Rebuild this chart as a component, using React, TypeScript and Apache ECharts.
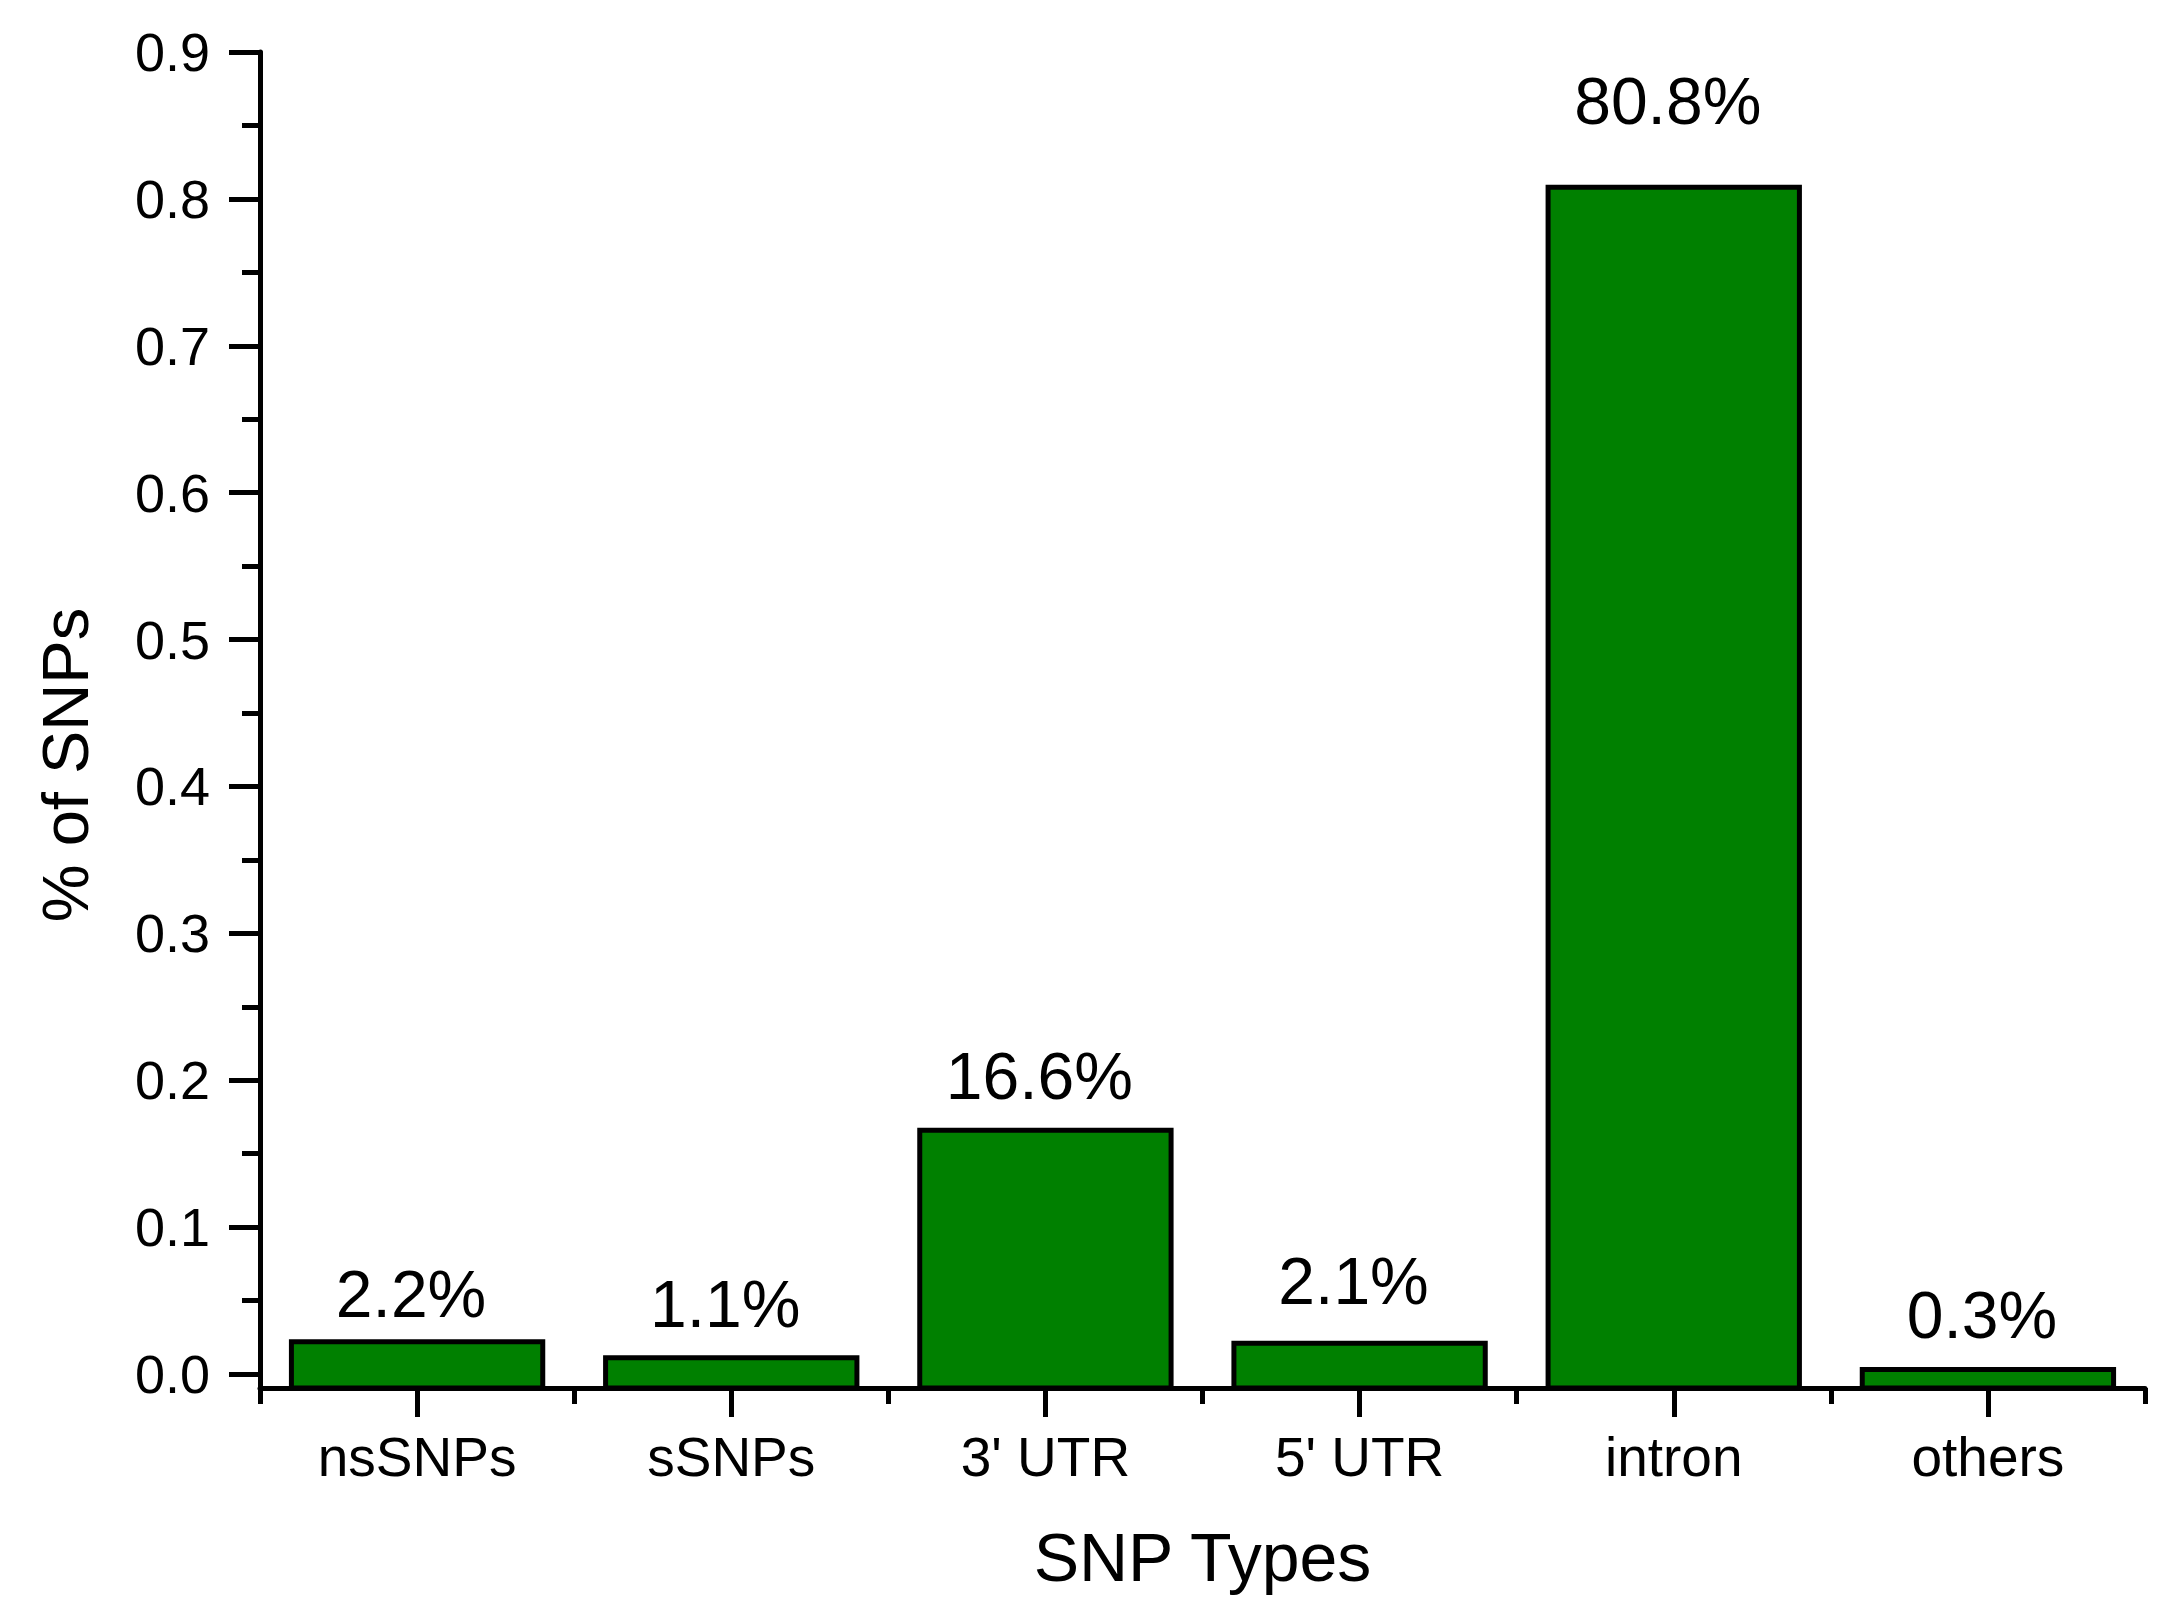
import React, { useEffect, useRef } from "react";
import * as echarts from "echarts";

const categories = ["nsSNPs", "sSNPs", "3' UTR", "5' UTR", "intron", "others"];
const values = [0.022, 0.011, 0.166, 0.021, 0.808, 0.003];
const barLabels = ["2.2%", "1.1%", "16.6%", "2.1%", "80.8%", "0.3%"];
const yMax = 0.9;
const yInterval = 0.1;
// style: distance (px) from label baseline to bar top, as placed in the original figure
const labelGaps = [26, 32, 32, 40, 64, 33];

const FONT = "'Liberation Sans', Arial, sans-serif";

export default function App() {
  const ref = useRef<HTMLDivElement>(null);
  useEffect(() => {
    document.body.style.margin = "0";
    if (!ref.current) return;
    const chart = echarts.init(ref.current, null, { renderer: "svg" });
    const gridLeft = 260;
    const gridRight = 31;
    const gridTop = 52;
    const bottomA = 247; // zero level
    const bottomB = 233; // axis line
    const plotH = 1621 - gridTop - bottomA;
    const yMinB = -yMax * (bottomA - bottomB) / plotH;
    const labelSize = 66;

    chart.setOption({
      animation: false,
      backgroundColor: "#fff",
      grid: [
        { left: gridLeft, right: gridRight, top: gridTop, bottom: bottomA },
        { left: gridLeft, right: gridRight, top: gridTop, bottom: bottomB },
      ],
      xAxis: [
        { type: "category", gridIndex: 0, data: categories, show: false },
        {
          type: "category",
          gridIndex: 1,
          position: "bottom",
          data: categories,
          axisLine: { show: true, onZero: false, lineStyle: { color: "#000", width: 5 } },
          axisTick: { show: true, alignWithLabel: true, length: 29, lineStyle: { color: "#000", width: 5 } },
          axisLabel: { color: "#000", fontSize: 55, fontFamily: FONT, margin: 41 },
          name: "SNP Types",
          nameLocation: "middle",
          nameGap: 135,
          nameTextStyle: { color: "#000", fontSize: 68, fontFamily: FONT },
        },
        {
          type: "category",
          gridIndex: 1,
          position: "bottom",
          data: categories,
          axisLine: { show: false, onZero: false },
          axisTick: { show: true, alignWithLabel: false, length: 16, lineStyle: { color: "#000", width: 5 } },
          axisLabel: { show: false },
        },
      ],
      yAxis: [
        {
          type: "value",
          gridIndex: 0,
          min: 0,
          max: yMax,
          interval: yInterval,
          axisLine: { show: false },
          axisTick: { show: true, length: 31, lineStyle: { color: "#000", width: 5 } },
          minorTick: { show: true, splitNumber: 2, length: 18, lineStyle: { color: "#000", width: 5 } },
          splitLine: { show: false },
          axisLabel: {
            color: "#000",
            fontSize: 54,
            fontFamily: FONT,
            margin: 50,
            formatter: (v: number) => v.toFixed(1),
          },
          name: "% of SNPs",
          nameLocation: "middle",
          nameGap: 162,
          nameTextStyle: { color: "#000", fontSize: 65, fontFamily: FONT, padding: [0, 104, 0, 0] },
        },
        {
          type: "value",
          gridIndex: 1,
          min: yMinB,
          max: yMax,
          axisLine: { show: true, onZero: false, lineStyle: { color: "#000", width: 5 } },
          axisTick: { show: false },
          axisLabel: { show: false },
          splitLine: { show: false },
        },
      ],
      series: [
        {
          type: "custom",
          xAxisIndex: 1,
          yAxisIndex: 1,
          data: values.map((v, i) => [i, v]),
          renderItem: (params: any, api: any) => {
            const i = params.dataIndex;
            const x = api.value(0);
            const v = api.value(1);
            const top = api.coord([x, v]);
            const base = api.coord([x, yMinB]);
            const w = api.size([1, 0])[0] * 0.8;
            return {
              type: "group",
              children: [
                {
                  type: "rect",
                  shape: { x: top[0] - w / 2, y: top[1], width: w, height: base[1] - top[1] },
                  style: { fill: "#008000", stroke: "#000", lineWidth: 5 },
                },
                {
                  type: "text",
                  style: {
                    text: barLabels[i],
                    x: top[0] - 6,
                    y: top[1] - (labelGaps[i] - 11),
                    align: "center",
                    verticalAlign: "bottom",
                    fontSize: labelSize,
                    fontFamily: FONT,
                    fill: "#000",
                  },
                },
              ],
            };
          },
        },
      ],
    });
    return () => chart.dispose();
  }, []);
  return <div ref={ref} style={{ width: 2176, height: 1621 }} />;
}
